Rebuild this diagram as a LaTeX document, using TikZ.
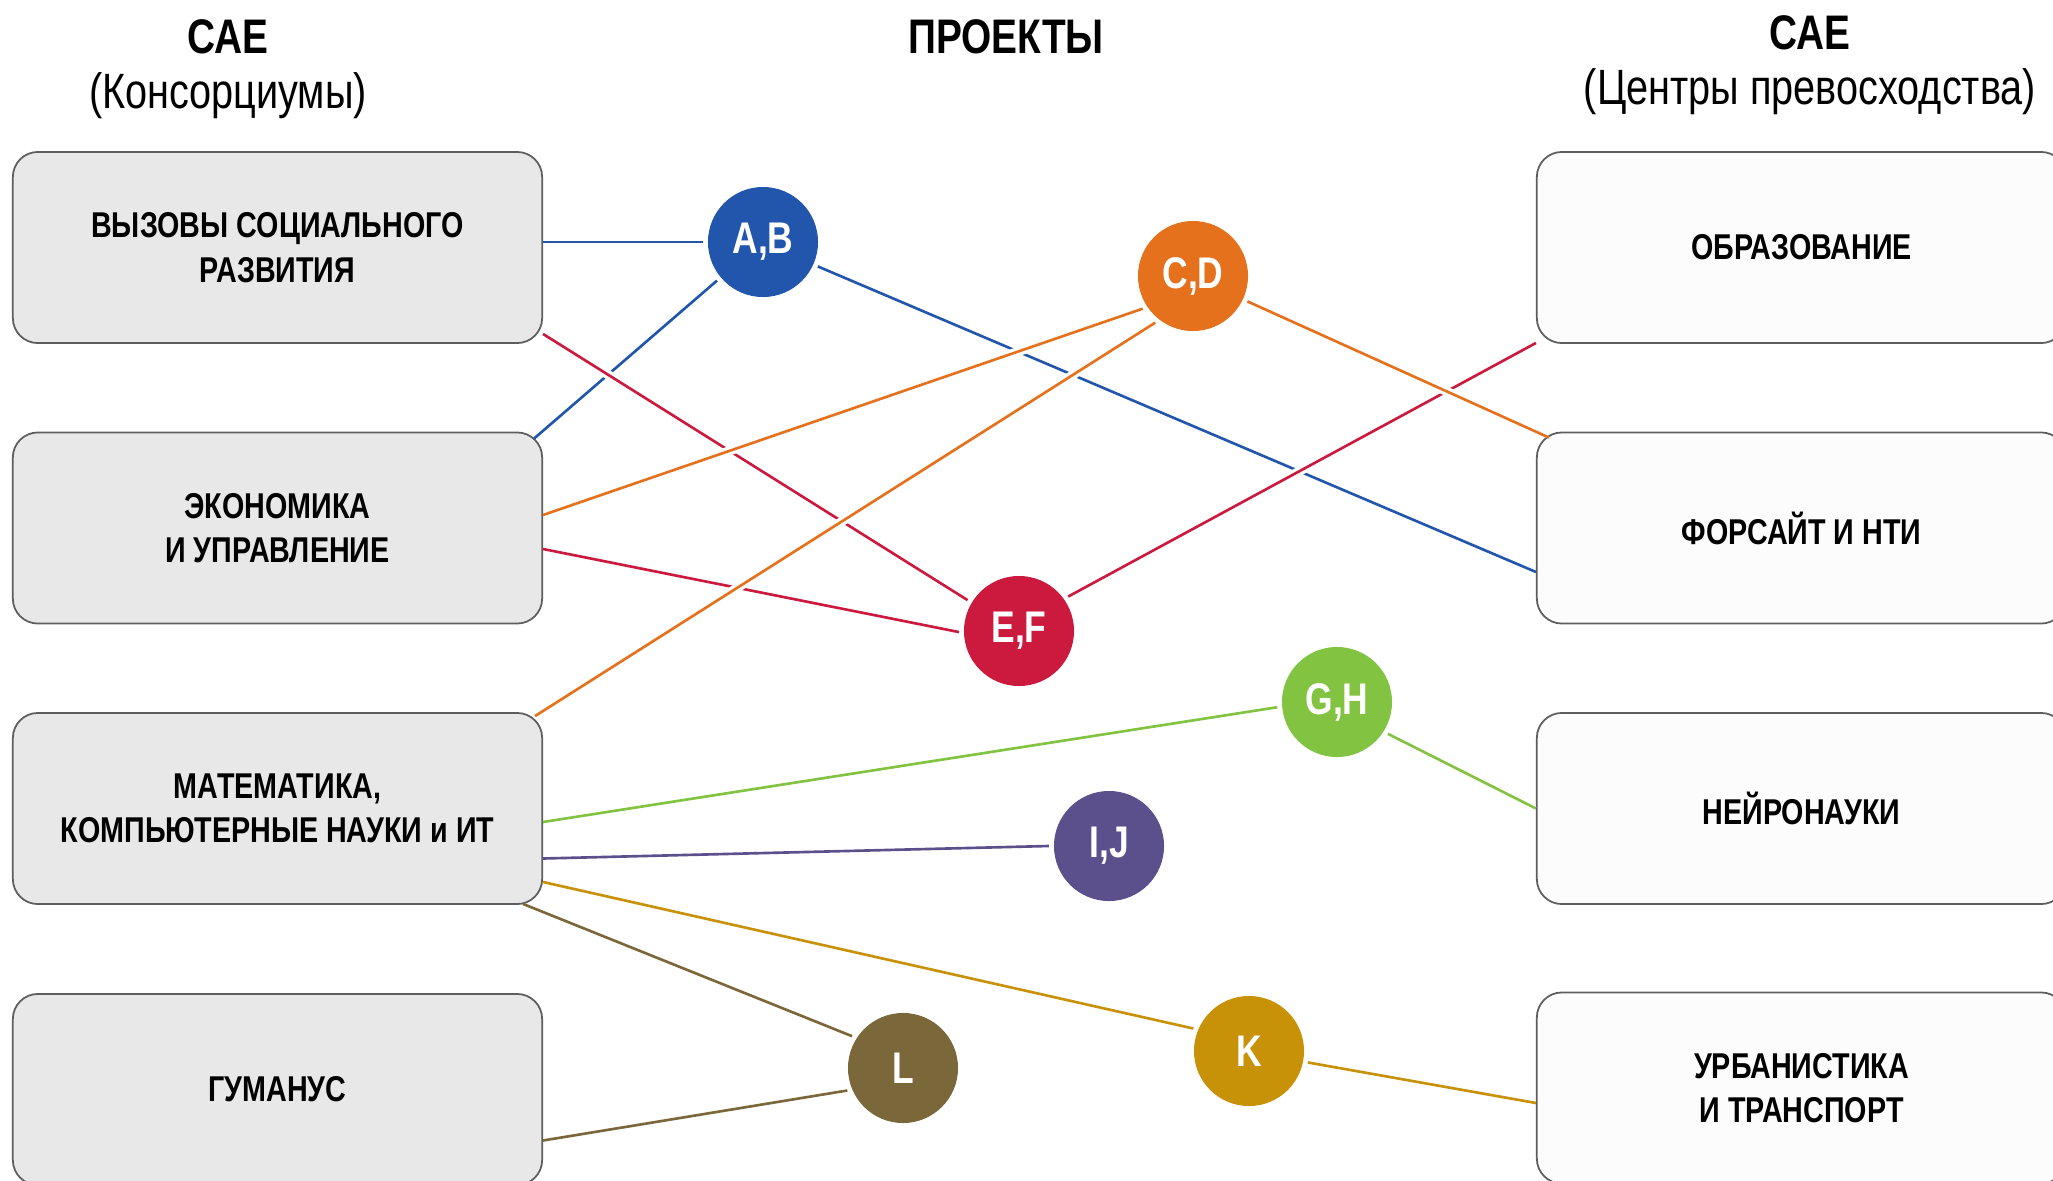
\documentclass[tikz,border=0pt]{standalone}
\usepackage{fontspec}
\setmainfont{Liberation Sans}[FakeStretch=0.8]

\definecolor{abblue}{HTML}{2256AC}
\definecolor{cdorange}{HTML}{E5711D}
\definecolor{efred}{HTML}{CC1A3F}
\definecolor{ghgreen}{HTML}{82C341}
\definecolor{ijpurple}{HTML}{5B4F8C}
\definecolor{kgold}{HTML}{C79108}
\definecolor{lolive}{HTML}{7A683B}
\definecolor{boxgray}{HTML}{E8E8E8}
\definecolor{boxline}{HTML}{5E5E5E}

\tikzset{
  consortium/.style={draw=boxline, fill=boxgray, rounded corners=0.25cm, line width=0.5pt,
    minimum width=5.29cm, minimum height=1.91cm, align=center,
    font=\fontsize{10.2}{12.6}\selectfont\bfseries},
  centre/.style={consortium, fill=black!1},
  project/.style={circle, minimum size=1.1cm, inner sep=0pt, outer sep=0.05cm,
    text=white, font=\fontsize{12.6}{14}\selectfont\bfseries},
  title/.style={font=\fontsize{13.8}{16}\selectfont\bfseries},
  subtitle/.style={font=\fontsize{14.1}{16}\selectfont},
  link/.style={line width=0.75pt,
    preaction={draw=white, line width=2.6pt, shorten <=5pt, shorten >=5pt}},
}

\begin{document}
\begin{tikzpicture}[x=0.01cm, y=-0.01cm]
  \useasboundingbox (0,0) rectangle (2053,1181);

  % Titles
  \node[title]    (cae_l) at (228,37)   {САЕ};
  \node[subtitle] (cons)  at (228,96)   {(Консорциумы)};
  \node[title]    (proj)  at (1006,37)  {ПРОЕКТЫ};
  \node[title]    (cae_r) at (1810,33)  {САЕ};
  \node[subtitle] (exc)   at (1810,92)  {(Центры превосходства)};

  % Consortia
  \node[consortium] (soc)  at (277.5,247.5)  {ВЫЗОВЫ СОЦИАЛЬНОГО\\РАЗВИТИЯ};
  \node[consortium] (eco)  at (277.5,528)    {ЭКОНОМИКА\\И УПРАВЛЕНИЕ};
  \node[consortium] (math) at (277.5,808.5)  {МАТЕМАТИКА,\\КОМПЬЮТЕРНЫЕ НАУКИ и ИТ};
  \node[consortium] (hum)  at (277.5,1089.5) {ГУМАНУС};

  % Centres of excellence
  \node[centre] (edu)   at (1801.5,247.5) {ОБРАЗОВАНИЕ};
  \node[centre] (fore)  at (1801.5,528)   {ФОРСАЙТ И НТИ};
  \node[centre] (neuro) at (1801.5,808.5) {НЕЙРОНАУКИ};
  \node[centre] (urb)   at (1801.5,1088)  {УРБАНИСТИКА\\И ТРАНСПОРТ};

  % Projects
  \node[project, fill=abblue]   (ab) at (763,242)   {A,B};
  \node[project, fill=cdorange] (cd) at (1193,276)  {C,D};
  \node[project, fill=efred]    (ef) at (1019,631)  {E,F};
  \node[project, fill=ghgreen]  (gh) at (1337,702)  {G,H};
  \node[project, fill=ijpurple] (ij) at (1109,846)  {I,J};
  \node[project, fill=kgold]    (k)  at (1249,1051) {K};
  \node[project, fill=lolive]   (l)  at (903,1068)  {L};

  % Connect the nodes
  \draw[link, abblue] (soc.east |- ab) -- (ab.180);
  \draw[link, abblue] ([shift={(-9,7)}]eco.north east) -- (ab.220);
  \draw[link, abblue] (ab.336) -- ([shift={(0,44)}]fore.west);
  \draw[link, efred] ([shift={(0,-10)}]soc.south east) -- (ef.149);
  \draw[link, efred] ([shift={(0,21)}]eco.east) -- (ef.181);
  \draw[link, efred] (ef.35) -- ([shift={(0,-1)}]edu.south west);
  \draw[link, cdorange] ([shift={(0,-13)}]eco.east) -- (cd.213);
  \draw[link, cdorange] ([shift={(-8,4)}]math.north east) -- (cd.231);
  \draw[link, cdorange] (cd.335) -- ([shift={(13,6)}]fore.north west);
  \draw[link, ghgreen] ([shift={(0,13.5)}]math.east) -- (gh.185);
  \draw[link, ghgreen] (gh.328) -- (neuro.west);
  \draw[link, ijpurple] ([shift={(0,50)}]math.east) -- (ij.180);
  \draw[link, kgold] ([shift={(0,73.5)}]math.east) -- (k.158);
  \draw[link, kgold] (k.349) -- ([shift={(0,15)}]urb.west);
  \draw[link, lolive] ([shift={(-20,-1)}]math.south east) -- (l.148);
  \draw[link, lolive] ([shift={(0,51)}]hum.east) -- (l.202);

\end{tikzpicture}
\end{document}
